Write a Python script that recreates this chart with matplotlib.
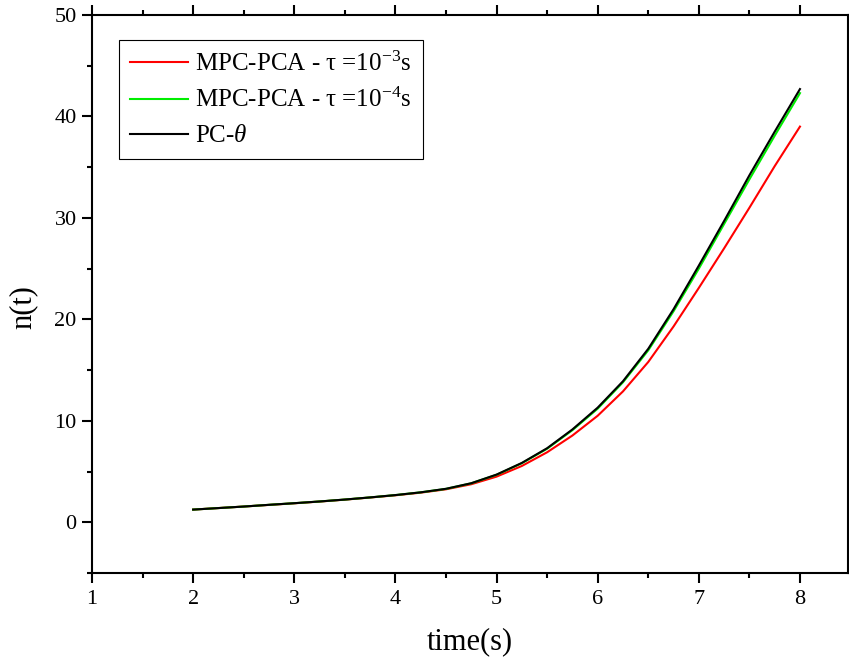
import matplotlib
matplotlib.use("Agg")
import matplotlib.pyplot as plt
from matplotlib.ticker import MultipleLocator

plt.rcParams["font.family"] = ["Liberation Serif", "DejaVu Serif"]
plt.rcParams["mathtext.fontset"] = "custom"
plt.rcParams["mathtext.rm"] = "Liberation Serif"
plt.rcParams["mathtext.it"] = "Liberation Serif:italic"

# time values (s)
time_s = [2.0, 2.25, 2.5, 2.75, 3.0, 3.25, 3.5, 3.75, 4.0, 4.25, 4.5, 4.75,
          5.0, 5.25, 5.5, 5.75, 6.0, 6.25, 6.5, 6.75, 7.0, 7.25, 7.5, 7.75, 8.0]

# MPC-PCA, tau = 1e-3 s
n_tau3 = [1.25, 1.40, 1.55, 1.71, 1.87, 2.04, 2.23, 2.44, 2.66, 2.92, 3.25, 3.75,
          4.50, 5.55, 6.90, 8.55, 10.5, 12.9, 15.8, 19.3, 23.1, 27.0, 31.0, 35.1, 39.0]

# MPC-PCA, tau = 1e-4 s
n_tau4 = [1.25, 1.40, 1.55, 1.72, 1.88, 2.05, 2.24, 2.45, 2.68, 2.95, 3.29, 3.84,
          4.68, 5.82, 7.25, 9.08, 11.2, 13.8, 16.95, 20.8, 25.0, 29.4, 33.8, 38.1, 42.3]

# PC-theta
n_pc = [1.25, 1.40, 1.55, 1.72, 1.88, 2.05, 2.24, 2.45, 2.68, 2.95, 3.30, 3.85,
        4.70, 5.85, 7.30, 9.15, 11.3, 13.9, 17.1, 21.0, 25.3, 29.7, 34.2, 38.5, 42.7]

labels = [r"MPC-PCA - τ =10$^{-3}$s", r"MPC-PCA - τ =10$^{-4}$s", r"PC-$\theta$"]

fig = plt.figure(figsize=(8.49, 6.65), dpi=100)
ax = fig.add_axes([92 / 849, 1 - 573 / 665, (848 - 92) / 849, (573 - 15) / 665])

ax.plot(time_s, n_tau3, color="#ff0000", lw=1.5, label=labels[0])
ax.plot(time_s, n_tau4, color="#00ee00", lw=1.5, label=labels[1])
ax.plot(time_s, n_pc, color="black", lw=1.5, label=labels[2])

ax.set_xlim(1, 8.475)
ax.set_ylim(-5, 50)
ax.xaxis.set_major_locator(MultipleLocator(1))
ax.xaxis.set_minor_locator(MultipleLocator(0.5))
ax.yaxis.set_major_locator(MultipleLocator(10))
ax.yaxis.set_minor_locator(MultipleLocator(5))

for s in ax.spines.values():
    s.set_linewidth(1.5)
ax.tick_params(which="both", direction="out", top=True, right=True, width=1.5,
               labelsize=16)
ax.tick_params(which="major", length=7)
ax.tick_params(which="minor", length=3.5)
ax.tick_params(axis="x", which="major", pad=5)
ax.tick_params(axis="y", which="major", pad=4)

ax.set_xlabel("time(s)", fontsize=22)
ax.set_ylabel("n(t)", fontsize=22)
ax.xaxis.set_label_coords(0.5, -0.098)
ax.yaxis.set_label_coords(-0.072, 0.477)

leg = ax.legend(loc="upper left", bbox_to_anchor=(0.036, 0.955), borderaxespad=0,
                fontsize=18, handlelength=2.3, handletextpad=0.3,
                labelspacing=0.5, fancybox=False, framealpha=1,
                edgecolor="black", borderpad=0.45)
leg.get_frame().set_linewidth(0.8)

fig.savefig("out.png", dpi=100)
